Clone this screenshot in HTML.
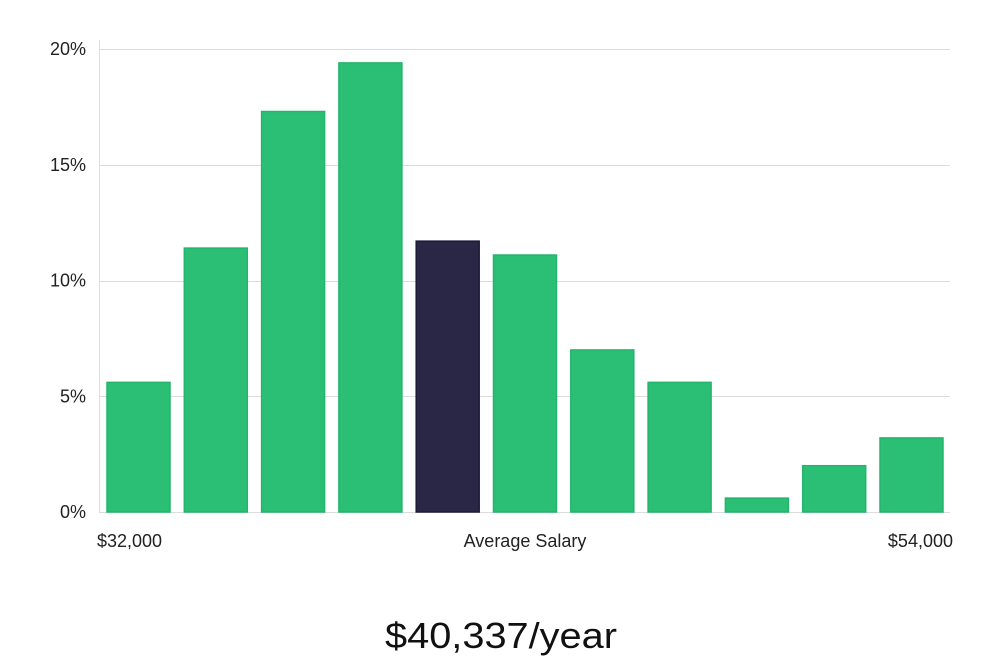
<!DOCTYPE html>
<html><head><meta charset="utf-8"><style>
body{margin:0;background:#fff;}
svg text{font-family:"Liberation Sans","DejaVu Sans",sans-serif;}
</style></head><body>
<svg width="1000" height="660" viewBox="0 0 1000 660" xmlns="http://www.w3.org/2000/svg">
<g id="grid"></g>
<g id="bars"></g>
<g id="ylabels"></g>
<line x1="99.5" y1="40" x2="99.5" y2="512" stroke="#ddd" stroke-width="1"/>
<text x="97" y="547" font-size="18" fill="#222">$32,000</text>
<text x="525" y="547" font-size="18" fill="#222" text-anchor="middle">Average Salary</text>
<text x="953" y="547" font-size="18" fill="#222" text-anchor="end">$54,000</text>
<text x="501" y="648" font-size="36" fill="#111" text-anchor="middle" textLength="232" lengthAdjust="spacingAndGlyphs">$40,337/year</text>
</svg>
<script>
const values = [5.6, 11.4, 17.3, 19.4, 11.7, 11.1, 7.0, 5.6, 0.6, 2.0, 3.2];
const highlightIndex = 4;
const yTicks = [0, 5, 10, 15, 20];
const yTickLabels = ["0%", "5%", "10%", "15%", "20%"];

const NS = "http://www.w3.org/2000/svg";
const x0 = 107, pitch = 77.3, bw = 63;
const yBase = 512, yTop = 49, yMax = 20;
function yScale(v){ return yBase - (v / yMax) * (yBase - yTop); }
function xScale(i){ return x0 + i * pitch; }

const grid = document.getElementById('grid');
const yl = document.getElementById('ylabels');
yTicks.forEach((t, i) => {
  const y = Math.round(yScale(t)) + 0.5;
  const l = document.createElementNS(NS, 'line');
  
  
  l.setAttribute('x1', 99); l.setAttribute('x2', 950);
  l.setAttribute('y1', y); l.setAttribute('y2', y);
  l.setAttribute('stroke', '#dcdcdc'); l.setAttribute('stroke-width', 1);
  grid.appendChild(l);
  const tx = document.createElementNS(NS, 'text');
  
  
  tx.setAttribute('x', 86); tx.setAttribute('y', yScale(t) + 6);
  tx.setAttribute('text-anchor', 'end'); tx.setAttribute('font-size', 18);
  tx.setAttribute('fill', '#222');
  tx.textContent = yTickLabels[i];
  yl.appendChild(tx);
});
const bars = document.getElementById('bars');
values.forEach((v, i) => {
  const r = document.createElementNS(NS, 'rect');
  
  
  const y = yScale(v);
  r.setAttribute('x', xScale(i)); r.setAttribute('y', y);
  r.setAttribute('width', bw); r.setAttribute('height', yBase - y);
  r.setAttribute('fill', i === highlightIndex ? '#2a2645' : '#2bbf75');
  r.setAttribute('stroke', i === highlightIndex ? '#1e1a3a' : '#24b46b');
  r.setAttribute('stroke-width', 1.5);
  bars.appendChild(r);
});
</script>
</body></html>
